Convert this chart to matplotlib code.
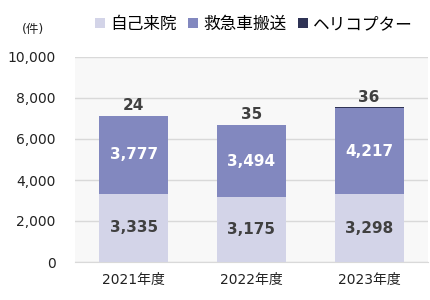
import matplotlib.pyplot as plt
import numpy as np

plt.rcParams['font.family'] = ['DejaVu Sans', 'Noto Sans CJK JP']

years = ['2021年度', '2022年度', '2023年度']
walk_in = [3335, 3175, 3298]
ambulance = [3777, 3494, 4217]
heli = [24, 35, 36]
series_names = ['自己来院', '救急車搬送', 'ヘリコプター']
colors = ['#d3d4e8', '#8288bf', '#2f3355']

fig = plt.figure(figsize=(4.3, 3.0), dpi=100)
ax = fig.add_axes([75 / 430, 38 / 300, 353 / 430, 205 / 300])
ax.set_facecolor('#f8f8f8')

x = np.arange(len(years))
w = 0.585
b1 = ax.bar(x, walk_in, w, color=colors[0], label=series_names[0], zorder=3)
b2 = ax.bar(x, ambulance, w, bottom=walk_in, color=colors[1], label=series_names[1], zorder=3)
bottom3 = np.array(walk_in) + np.array(ambulance)
b3 = ax.bar(x, heli, w, bottom=bottom3, color=colors[2], label=series_names[2], zorder=3)

# data labels
for i in range(len(years)):
    ax.text(x[i], walk_in[i] / 2, f'{walk_in[i]:,}', ha='center', va='center',
            fontsize=11, fontweight='bold', color='#404040', zorder=4)
    ax.text(x[i], walk_in[i] + ambulance[i] / 2, f'{ambulance[i]:,}', ha='center', va='center',
            fontsize=11, fontweight='bold', color='white', zorder=4)
    ax.text(x[i], bottom3[i] + heli[i] + 120, f'{heli[i]}', ha='center', va='bottom',
            fontsize=11, fontweight='bold', color='#404040', zorder=4)

ax.set_xlim(-0.5, 2.5)
ax.set_ylim(0, 10000)
ax.set_yticks(range(0, 10001, 2000))
ax.set_yticklabels([f'{v:,}' for v in range(0, 10001, 2000)])
ax.set_xticks(x)
ax.set_xticklabels(years)
ax.yaxis.grid(True, color='#d9d9d9', linewidth=1, zorder=0)
for s in ['top', 'right', 'left']:
    ax.spines[s].set_visible(False)
ax.spines['bottom'].set_color('#d9d9d9')
ax.tick_params(axis='both', length=0, labelsize=10, colors='#222222')
ax.tick_params(axis='y', pad=14)
ax.tick_params(axis='x', pad=8)

fig.text(33 / 430, 1 - 30 / 300, '(件)', ha='center', va='center', fontsize=9, color='#222222')

fig.legend(handles=[b1, b2, b3], loc='center', bbox_to_anchor=(254 / 430, 1 - 24 / 300),
           ncol=3, frameon=False, fontsize=12, handlelength=0.6, handleheight=0.6,
           handletextpad=0.3, columnspacing=0.7)

fig.savefig('out.png', dpi=100, facecolor='white')
